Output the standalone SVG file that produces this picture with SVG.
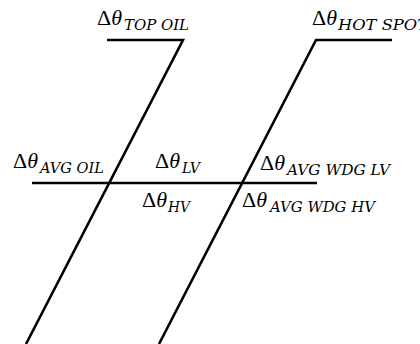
<svg xmlns="http://www.w3.org/2000/svg" width="420" height="344" viewBox="0 0 420 344">
<style>
.ln{fill:none;stroke:#000;stroke-width:2.6;stroke-linejoin:miter}
.m{font-family:"Liberation Serif","DejaVu Serif",serif;font-size:22px;fill:#000}
.it{font-style:italic}
.s{font-family:"DejaVu Serif","Liberation Serif",serif;font-style:italic;font-size:14.5px;fill:#000}
</style>
<rect width="420" height="344" fill="#fff"/>
<g id="connectors">
<polyline class="ln" points="107,40 183,40 26,344"/>
<polyline class="ln" points="392,40 316,40 159,344"/>
<line class="ln" x1="32" y1="183" x2="317" y2="183"/>
</g>
<g id="top-oil">
<text class="m" x="97" y="25">Δ<tspan class="it">θ</tspan></text>
<text class="s" x="124" y="30" textLength="65" lengthAdjust="spacingAndGlyphs">TOP OIL</text>
</g>
<g id="hot-spot">
<text class="m" x="312" y="25">Δ<tspan class="it">θ</tspan></text>
<text class="s" x="338" y="30" textLength="90" lengthAdjust="spacingAndGlyphs">HOT SPOT</text>
</g>
<g id="avg-oil">
<text class="m" x="13" y="168">Δ<tspan class="it">θ</tspan></text>
<text class="s" x="40" y="173" textLength="64" lengthAdjust="spacingAndGlyphs">AVG OIL</text>
</g>
<g id="lv">
<text class="m" x="155" y="168">Δ<tspan class="it">θ</tspan></text>
<text class="s" x="182" y="173" textLength="18" lengthAdjust="spacingAndGlyphs">LV</text>
</g>
<g id="hv">
<text class="m" x="142" y="207">Δ<tspan class="it">θ</tspan></text>
<text class="s" x="168" y="212" textLength="22" lengthAdjust="spacingAndGlyphs">HV</text>
</g>
<g id="avg-wdg-lv">
<text class="m" x="260" y="170">Δ<tspan class="it">θ</tspan></text>
<text class="s" x="287" y="175" textLength="103" lengthAdjust="spacingAndGlyphs">AVG WDG LV</text>
</g>
<g id="avg-wdg-hv">
<text class="m" x="242" y="207">Δ<tspan class="it">θ</tspan></text>
<text class="s" x="270" y="212" textLength="105" lengthAdjust="spacingAndGlyphs">AVG WDG HV</text>
</g>
</svg>
